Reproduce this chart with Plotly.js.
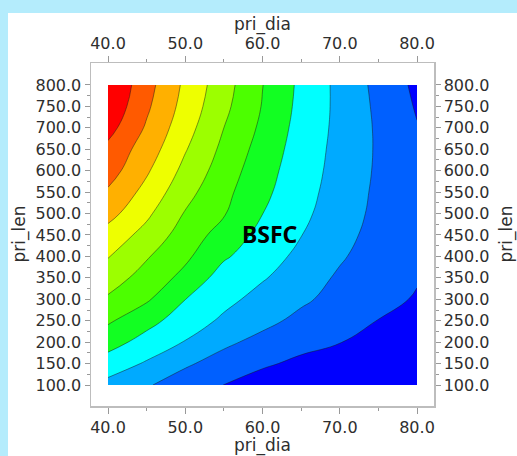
<!DOCTYPE html>
<html>
<head>
<meta charset="utf-8">
<script src="https://cdn.plot.ly/plotly-3.0.1.min.js"></script>
<style>
  html, body { margin: 0; padding: 0; width: 517px; height: 456px; overflow: hidden; background: #b4ecfc; }
  #chart { position: absolute; left: 8px; top: 13px; width: 509px; height: 443px; background: #ffffff; }
</style>
</head>
<body>
<div id="chart"></div>
<script>
// x axis: pri_dia grid values
var priDia = [40, 45, 50, 55, 60, 65, 70, 75, 80];
// y axis: pri_len grid values
var priLen = [100, 150, 200, 250, 300, 350, 400, 450, 500, 550, 600, 650, 700, 750, 800];
// BSFC level (band index), rows follow priLen, columns follow priDia
var bsfc = [
  [2.20, 1.59, 1.04, 0.49, -0.06, -0.60, -1.10, -1.50, -1.90],
  [3.06, 2.39, 1.63, 1.13, 0.68, 0.24, -0.21, -0.55, -0.90],
  [3.89, 3.14, 2.45, 1.68, 1.23, 0.88, 0.53, 0.18, -0.17],
  [4.64, 3.82, 3.02, 2.33, 1.75, 1.27, 0.87, 0.48, 0.08],
  [5.36, 4.63, 3.51, 2.77, 2.17, 1.65, 1.20, 0.78, 0.42],
  [5.99, 5.10, 4.22, 3.05, 2.58, 2.01, 1.35, 0.95, 0.57],
  [6.55, 5.59, 4.69, 3.63, 2.91, 2.28, 1.62, 1.01, 0.66],
  [7.10, 6.17, 5.04, 4.10, 3.20, 2.52, 1.83, 1.15, 0.72],
  [7.85, 6.69, 5.43, 4.57, 3.51, 2.72, 1.99, 1.25, 0.76],
  [8.37, 7.19, 5.83, 4.77, 3.73, 2.86, 2.08, 1.31, 0.76],
  [8.95, 7.63, 6.22, 5.02, 3.90, 2.96, 2.16, 1.36, 0.72],
  [9.25, 8.03, 6.57, 5.26, 4.10, 3.04, 2.21, 1.38, 0.65],
  [9.86, 8.38, 6.89, 5.50, 4.30, 3.13, 2.25, 1.36, 0.55],
  [10.29, 8.67, 7.14, 5.74, 4.45, 3.22, 2.26, 1.30, 0.41],
  [10.50, 8.87, 7.30, 5.90, 4.52, 3.28, 2.24, 1.22, 0.28]
];
// band colours from lowest to highest
var bandColors = ['#0000ff', '#0060ff', '#00aaff', '#00ffff', '#12ff22', '#4cff00',
                  '#9cff00', '#eeff00', '#ffb000', '#ff5a00', '#ff0000'];
// tick values / labels
var xTicks = [40, 50, 60, 70, 80];
var xMinor = [45, 55, 65, 75];
var yTicks = [100, 150, 200, 250, 300, 350, 400, 450, 500, 550, 600, 650, 700, 750, 800];
var yMinor = [125, 175, 225, 275, 325, 375, 425, 475, 525, 575, 625, 675, 725, 775];
var xTitle = 'pri_dia';
var yTitle = 'pri_len';
var label = 'BSFC';

var colorscale = bandColors.map(function (c, i) { return [i / (bandColors.length - 1), c]; });

var traces = [
  {
    type: 'contour',
    x: priDia, y: priLen, z: bsfc,
    autocontour: false,
    contours: { start: 0.5, end: 9.5, size: 1, coloring: 'fill' },
    colorscale: colorscale,
    showscale: false,
    line: { color: 'rgba(25,25,25,0.6)', width: 0.8, smoothing: 1.3 },
    hoverinfo: 'skip'
  },
  { type: 'scatter', x: [], y: [], xaxis: 'x2', yaxis: 'y2', hoverinfo: 'skip', showlegend: false }
];

var fam = 'DejaVu Sans, Verdana, sans-serif';
var txtColor = '#2e2e2e';
function xAxis(side) {
  return {
    range: [37.8, 82.2], side: side,
    tickvals: xTicks, ticktext: xTicks.map(function (v) { return v.toFixed(1); }),
    ticks: 'outside', ticklen: 6, tickwidth: 1, tickcolor: '#999',
    minor: { tickvals: xMinor, ticks: 'outside', ticklen: 3, tickwidth: 1, tickcolor: '#999' },
    showline: true, linecolor: '#bdbdbd', linewidth: 1.5,
    showgrid: false, zeroline: false,
    tickfont: { family: fam, size: 16, color: txtColor }
  };
}
function yAxis(side) {
  return {
    range: [51, 851.3], side: side,
    tickvals: yTicks, ticktext: yTicks.map(function (v) { return v.toFixed(1); }),
    ticks: 'outside', ticklen: 5, tickwidth: 1, tickcolor: '#999',
    minor: { tickvals: yMinor, ticks: 'outside', ticklen: 3, tickwidth: 1, tickcolor: '#999' },
    showline: true, linecolor: '#bdbdbd', linewidth: 1.5,
    showgrid: false, zeroline: false,
    tickfont: { family: fam, size: 16, color: txtColor }
  };
}

var titleFont = { family: fam, size: 17, color: txtColor };
function titleAnn(text, x, y, xshift, yshift, angle) {
  return { text: text, xref: 'paper', yref: 'paper', x: x, y: y, xshift: xshift, yshift: yshift,
           textangle: angle, showarrow: false, xanchor: 'center', yanchor: 'middle', font: titleFont };
}

var layout = {
  width: 509, height: 443,
  margin: { l: 83, r: 83, t: 50, b: 50, pad: 0 },
  paper_bgcolor: '#ffffff', plot_bgcolor: '#ffffff',
  showlegend: false,
  xaxis: Object.assign(xAxis('bottom'), { anchor: 'y' }),
  yaxis: Object.assign(yAxis('left'), { anchor: 'x' }),
  xaxis2: Object.assign(xAxis('top'), { anchor: 'y', overlaying: 'x' }),
  yaxis2: Object.assign(yAxis('right'), { anchor: 'x', overlaying: 'y' }),
  annotations: [
    {
      x: 61, y: 452, xref: 'x', yref: 'y', text: label, showarrow: false,
      font: { family: 'Noto Sans, Open Sans, sans-serif', size: 23, color: '#000', weight: 700 }
    },
    titleAnn(xTitle, 0.5, 1, 0, 39, 0),
    titleAnn(xTitle, 0.5, 0, 0, -39, 0),
    titleAnn(yTitle, 0, 0.5, -72, 0, -90),
    titleAnn(yTitle, 1, 0.5, 72, 0, -90)
  ]
};

Plotly.newPlot('chart', traces, layout, { staticPlot: true, displayModeBar: false });
</script>
</body>
</html>
